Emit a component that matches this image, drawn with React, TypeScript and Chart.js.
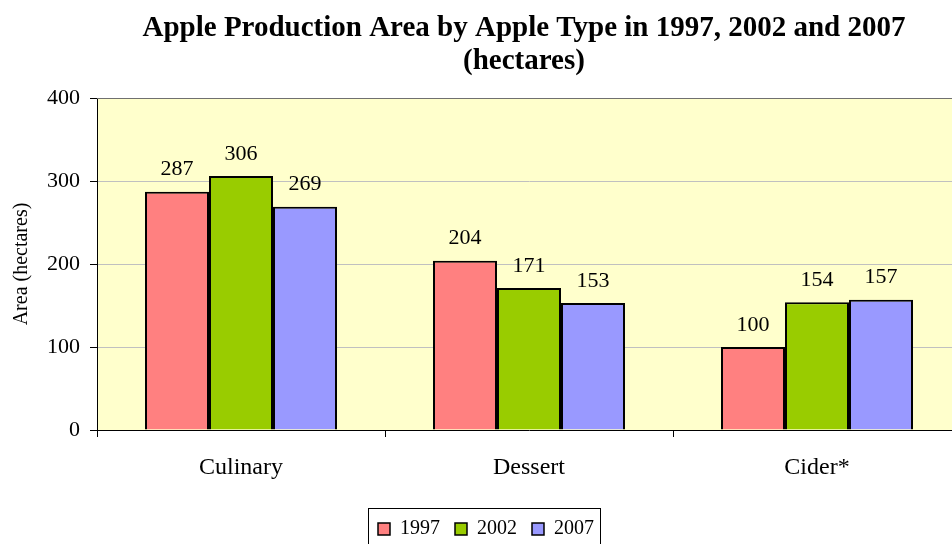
import React, { useEffect, useRef } from "react";
import { Chart, registerables } from "chart.js";

Chart.register(...registerables);

const categories = ["Culinary", "Dessert", "Cider*"];
const seriesNames = ["1997", "2002", "2007"];
const values1997 = [287, 204, 100];
const values2002 = [306, 171, 154];
const values2007 = [269, 153, 157];
const seriesColors = ["#FF8080", "#99CC00", "#9999FF"];
const yTicks = [0, 100, 200, 300, 400];
const titleLines = ["Apple Production Area by Apple Type in 1997, 2002 and 2007", "(hectares)"];
const yAxisTitle = "Area (hectares)";

const SERIF = "'Liberation Serif', 'Times New Roman', serif";
const CANVAS_W = 982;
const CANVAS_H = 549;

const plotBgPlugin = {
  id: "plotBg",
  afterLayout(chart: any) {
    if (chart.titleBlock) {
      chart.titleBlock.left -= 10;
    }
    if (chart.legend) {
      chart.legend.left += 11;
    }
  },
  beforeDraw(chart: any) {
    const { ctx, chartArea } = chart;
    ctx.save();
    ctx.fillStyle = "#FFFFCC";
    ctx.fillRect(chartArea.left, chartArea.top, chartArea.right - chartArea.left, chartArea.bottom - chartArea.top);
    ctx.restore();
  },
  afterDraw(chart: any) {
    const { ctx, chartArea } = chart;
    ctx.save();
    ctx.strokeStyle = "#707070";
    ctx.lineWidth = 1.2;
    ctx.beginPath();
    ctx.moveTo(chartArea.left, chartArea.top + 0.5);
    ctx.lineTo(chartArea.right, chartArea.top + 0.5);
    ctx.lineTo(chartArea.right - 0.5, chartArea.bottom);
    ctx.stroke();
    const lg = chart.legend;
    if (lg && lg.legendHitBoxes && lg.legendHitBoxes.length) {
      const hb = lg.legendHitBoxes;
      const first = hb[0];
      const last = hb[hb.length - 1];
      const cy = first.top + first.height / 2;
      const l = first.left - 10;
      const r = last.left + last.width + 6;
      ctx.strokeStyle = "#000";
      ctx.lineWidth = 1;
      ctx.strokeRect(Math.round(l) + 0.5, Math.round(cy - 21) + 0.5, Math.round(r - l), 42);
    }
    ctx.restore();
  },
};

const dataLabelPlugin = {
  id: "dataLabels",
  afterDatasetsDraw(chart: any) {
    const { ctx } = chart;
    ctx.save();
    ctx.font = `22px ${SERIF}`;
    ctx.fillStyle = "#000";
    ctx.textAlign = "center";
    ctx.textBaseline = "alphabetic";
    chart.data.datasets.forEach((ds: any, di: number) => {
      const meta = chart.getDatasetMeta(di);
      meta.data.forEach((bar: any, i: number) => {
        ctx.fillText(String(ds.data[i]), bar.x, bar.y - 16.5);
      });
    });
    ctx.restore();
  },
};

export default function App() {
  const ref = useRef<HTMLCanvasElement | null>(null);
  useEffect(() => {
    if (!ref.current) return;
    const chart = new Chart(ref.current, {
      type: "bar",
      data: {
        labels: categories,
        datasets: [values1997, values2002, values2007].map((vals, i) => ({
          label: seriesNames[i],
          data: vals,
          backgroundColor: seriesColors[i],
          borderColor: "#000",
          borderWidth: 2,
          borderSkipped: "bottom" as const,
          categoryPercentage: 2 / 3,
          barPercentage: 1,
        })),
      },
      options: {
        responsive: false,
        animation: false,
        devicePixelRatio: 1,
        layout: { padding: { left: 0, right: CANVAS_W - 961, top: 0, bottom: 0 } },
        plugins: {
          title: {
            display: true,
            text: titleLines,
            fullSize: false,
            color: "#000",
            font: { family: SERIF, size: 29, weight: "bold", lineHeight: 33 / 29 },
            padding: { top: 12, bottom: 20 },
          },
          legend: {
            display: true,
            position: "bottom",
            labels: {
              color: "#000",
              font: { family: SERIF, size: 20, lineHeight: 1 },
              boxWidth: 12,
              boxHeight: 12,
              padding: 15,
              generateLabels: (chart: any) =>
                chart.data.datasets.map((ds: any, i: number) => ({
                  text: ds.label,
                  fillStyle: ds.backgroundColor,
                  strokeStyle: "#000",
                  lineWidth: 1.5,
                  hidden: false,
                  datasetIndex: i,
                  fontColor: "#000",
                })),
            },
          },
          tooltip: { enabled: false },
        },
        scales: {
          x: {
            grid: {
              offset: true,
              drawOnChartArea: false,
              drawTicks: true,
              tickLength: 7,
              tickColor: "#000",
            },
            border: { color: "#000", width: 1 },
            ticks: { color: "#000", font: { family: SERIF, size: 24 }, padding: 16, maxRotation: 0 },
            afterFit: (scale: any) => {
              scale.height = 74;
            },
          },
          y: {
            min: 0,
            max: 400,
            afterBuildTicks: (scale: any) => {
              scale.ticks = yTicks.map((v) => ({ value: v }));
            },
            grid: {
              color: (c: any) => (c.tick && (c.tick.value === 0 || c.tick.value === 400) ? "rgba(0,0,0,0)" : "#C0C0C0"),
              tickColor: "#000",
              tickLength: 7,
              drawTicks: true,
            },
            border: { color: "#000", width: 1 },
            ticks: { color: "#000", font: { family: SERIF, size: 22 }, padding: 10 },
            title: {
              display: true,
              text: yAxisTitle,
              color: "#000",
              font: { family: SERIF, size: 20, lineHeight: 1.2 },
              padding: { top: 10, bottom: 0 },
            },
            afterFit: (scale: any) => {
              scale.width = 97;
            },
          },
        },
      },
      plugins: [plotBgPlugin, dataLabelPlugin],
    } as any);
    return () => chart.destroy();
  }, []);
  return (
    <div style={{ position: "fixed", left: 0, top: 0, width: 952, height: 544, overflow: "hidden", background: "#fff" }}>
      <canvas ref={ref} width={CANVAS_W} height={CANVAS_H} style={{ display: "block", width: CANVAS_W, height: CANVAS_H }} />
    </div>
  );
}
